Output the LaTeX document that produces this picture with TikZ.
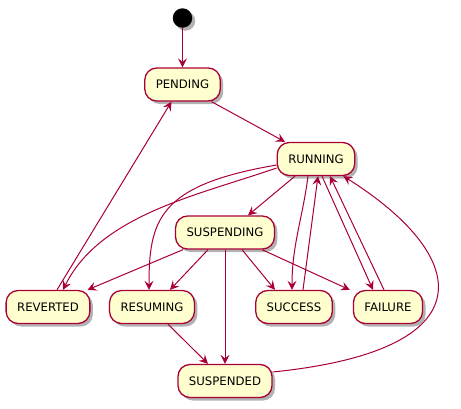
\documentclass[tikz,border=0pt]{standalone}
\usepackage{fontspec}
\setmainfont{DejaVu Sans}
\usetikzlibrary{arrows.meta,shadows,positioning}
\definecolor{umlred}{HTML}{A80036}
\definecolor{umlfill}{HTML}{FEFECE}

\begin{document}
\begin{tikzpicture}[x=1pt,y=-1pt,->,>={Stealth[length=9pt,width=9pt,inset=3.5pt]},
    link/.style={umlred,line width=1pt},
    every edge/.style={draw,link},
    stbox/.style={draw=umlred,fill=umlfill,text=black,rounded corners=12pt,line width=1.3pt,
        minimum height=33pt,inner xsep=11pt,font=\fontsize{11.7}{14}\selectfont,
        drop shadow={shadow xshift=3pt,shadow yshift=-3pt,opacity=.3,fill=black}},
    dot/.style={circle,fill=black,minimum size=19.5pt,inner sep=0pt,
        drop shadow={shadow xshift=3pt,shadow yshift=-3pt,opacity=.3,fill=black}}]
    \useasboundingbox (0,0) rectangle (461,408);

    \node[dot] (init) at (182.5,18) {};
    \path (init) ++(0,66.5) node[stbox] (pending) {PENDING};
    \node[stbox] (running) at (316,159) {RUNNING};
    \path (pending) ++(42.5,148) node[stbox] (suspending) {SUSPENDING};
    \path (suspending) ++(0,148.5) node[stbox] (suspended) {SUSPENDED};

    \node[stbox] (reverted) at (48,307) {REVERTED};
    \path (reverted) ++(104,0) node[stbox] (resuming) {RESUMING};
    \path (resuming) ++(142,0) node[stbox] (success) {SUCCESS};
    \path (success) ++(94,0) node[stbox] (failure) {FAILURE};

    \path
        (init) edge (pending)
        ([xshift=29pt]pending.south) edge ([xshift=-31pt]running.north)
        ([xshift=9pt]reverted.north) edge ([xshift=-11pt]pending.south)
        ([xshift=-21pt]running.south) edge ([xshift=23pt]suspending.north)
        ([xshift=-42pt]suspending.south) edge ([xshift=-3pt]reverted.north east)
        ([xshift=-17pt]suspending.south) edge ([xshift=18pt]resuming.north)
        (suspending) edge (suspended)
        ([xshift=17pt]suspending.south) edge ([xshift=-19pt]success.north)
        ([xshift=37pt]suspending.south) edge ([xshift=-3pt]failure.north west)
        ([xshift=9pt]success.north) edge ([xshift=2pt]running.south)
        ([xshift=6pt]running.south) edge ([xshift=-15pt]failure.north)
        ([xshift=-4pt]failure.north) edge ([xshift=14pt]running.south)
        ([xshift=16pt]resuming.south) edge ([xshift=-17pt]suspended.north);

    % curved links
    \draw[link] ([yshift=-6pt]running.west) .. controls +(-118,20) and +(0,-70) .. ([xshift=-3pt]resuming.north);
    \draw[link] ([yshift=-9pt]running.west) .. controls +(-78,27) and +(37,-75) .. ([xshift=15pt]reverted.north);
    \draw[link] ([xshift=-8pt]running.south) .. controls +(-5,40) and +(0,-45) .. ([xshift=-2pt]success.north);
    \draw[link] ([yshift=9pt]suspended.east) .. controls +(217,-22) and +(127,80) .. ([xshift=-12pt]running.south east);
\end{tikzpicture}
\end{document}
